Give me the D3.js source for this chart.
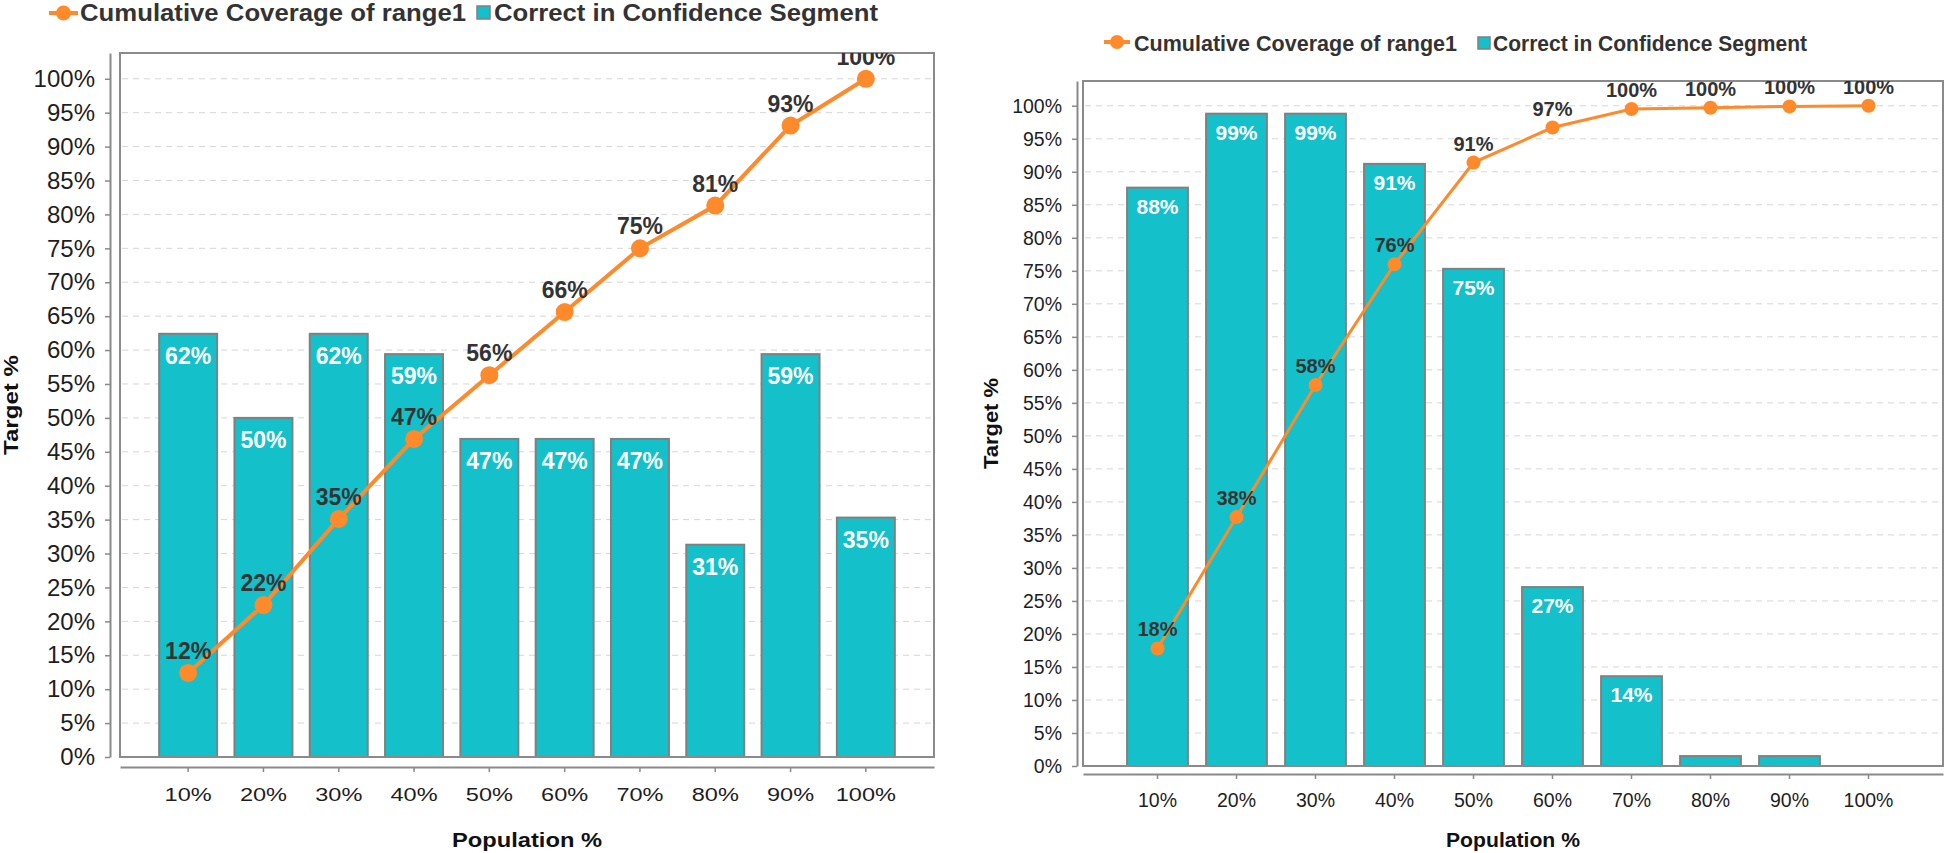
<!DOCTYPE html>
<html>
<head>
<meta charset="utf-8">
<script src="https://cdn.jsdelivr.net/npm/d3@7"></script>
<style>
  html, body { margin: 0; padding: 0; background: #fff; }
  svg { display: block; font-family: "Liberation Sans", Arial, sans-serif; }
</style>
</head>
<body>
<svg id="chart" width="1946" height="853"></svg>
<script>
// ---------- DATA ----------
const categories = ["10%", "20%", "30%", "40%", "50%", "60%", "70%", "80%", "90%", "100%"];
const yTicks = [0, 5, 10, 15, 20, 25, 30, 35, 40, 45, 50, 55, 60, 65, 70, 75, 80, 85, 90, 95, 100];

// Left chart
const leftBars = [62.4, 50.0, 62.4, 59.4, 46.9, 46.9, 46.9, 31.3, 59.4, 35.3];
const leftLine = [12.4, 22.4, 35.1, 46.9, 56.3, 65.6, 75.0, 81.3, 93.1, 100.0];

// Right chart
const rightBars = [87.6, 98.8, 98.8, 91.2, 75.3, 27.1, 13.6, 1.5, 1.5, 0];
const rightLine = [17.8, 37.7, 57.7, 76.0, 91.4, 96.7, 99.5, 99.7, 99.9, 100.0];

const seriesLineName = "Cumulative Coverage of range1";
const seriesBarName = "Correct in Confidence Segment";
const xTitle = "Population %";
const yTitle = "Target %";

// ---------- STYLE ----------
const ORANGE = "#ff8a2b";
const TEAL = "#14c1ca";
const BAR_STROKE = "#808080";
const FRAME = "#8a8a8a";
const GRID = "#d6d6d6";

const svg = d3.select("#chart");

function drawChart(cfg) {
  const g = svg.append("g");
  const x = d3.scaleBand().domain(categories)
    .range([cfg.left, cfg.right]).paddingInner(0.23).paddingOuter(cfg.po);
  const y = d3.scaleLinear().domain([0, cfg.yMax]).range([cfg.bottom, cfg.top]);

  const clipId = "clip" + cfg.id;
  svg.append("defs").append("clipPath").attr("id", clipId)
    .append("rect").attr("x", cfg.left).attr("y", cfg.top)
    .attr("width", cfg.right - cfg.left).attr("height", cfg.bottom - cfg.top);

  // plot background + gridlines
  g.append("rect").attr("x", cfg.left).attr("y", cfg.top)
    .attr("width", cfg.right - cfg.left).attr("height", cfg.bottom - cfg.top)
    .attr("fill", "#fff");
  g.append("g").selectAll("line").data(yTicks.filter(d => d > 0)).join("line")
    .attr("x1", cfg.left + 2).attr("x2", cfg.right - 2)
    .attr("y1", d => y(d)).attr("y2", d => y(d))
    .attr("stroke", GRID).attr("stroke-width", 1).attr("stroke-dasharray", "6,5");

  // bars
  const bars = cfg.bars.map((v, i) => ({ c: categories[i], v }));
  g.append("g").selectAll("rect").data(bars.filter(d => d.v > 0)).join("rect")
    .attr("x", d => x(d.c)).attr("width", x.bandwidth())
    .attr("y", d => y(d.v)).attr("height", d => y(0) - y(d.v))
    .attr("fill", TEAL).attr("stroke", BAR_STROKE).attr("stroke-width", 2);
  g.append("g").selectAll("text").data(bars.filter(d => d.v >= 5)).join("text")
    .attr("x", d => x(d.c) + x.bandwidth() / 2)
    .attr("y", d => y(d.v) + cfg.barLabelDy)
    .attr("text-anchor", "middle").attr("fill", "#fff")
    .attr("font-weight", "bold").attr("font-size", cfg.barLabelSize)
    .text(d => Math.round(d.v) + "%");

  // frame
  g.append("rect").attr("x", cfg.left).attr("y", cfg.top)
    .attr("width", cfg.right - cfg.left).attr("height", cfg.bottom - cfg.top)
    .attr("fill", "none").attr("stroke", FRAME).attr("stroke-width", 2);

  // line series
  const pts = cfg.line.map((v, i) => ({ c: categories[i], v }));
  const cx = d => x(d.c) + x.bandwidth() / 2;
  g.append("path").datum(pts)
    .attr("d", d3.line().x(cx).y(d => y(d.v)))
    .attr("fill", "none").attr("stroke", ORANGE).attr("stroke-width", cfg.lineW);
  g.append("g").selectAll("circle").data(pts).join("circle")
    .attr("cx", cx).attr("cy", d => y(d.v)).attr("r", cfg.r).attr("fill", ORANGE);
  g.append("g").attr("clip-path", `url(#${clipId})`)
    .selectAll("text").data(pts).join("text")
    .attr("x", cx).attr("y", d => y(d.v) - cfg.lineLabelDy)
    .attr("text-anchor", "middle").attr("fill", "#333")
    .attr("font-weight", "bold").attr("font-size", cfg.lineLabelSize)
    .text(d => Math.round(d.v) + "%");

  // y axis
  const ya = g.append("g").attr("transform", `translate(${cfg.yAxisX},0)`)
    .call(d3.axisLeft(y).tickValues(yTicks).tickFormat(d => d + "%")
      .tickSize(5).tickSizeOuter(0).tickPadding(cfg.yPad));
  ya.select(".domain").attr("stroke", FRAME).attr("stroke-width", 2);
  ya.selectAll(".tick line").attr("stroke", FRAME).attr("stroke-width", 1.5);
  ya.selectAll(".tick text").attr("font-size", cfg.yTickSize).attr("fill", "#1e1e1e")
    .attr("font-family", "Liberation Sans, Arial, sans-serif");

  // x axis
  const xa = g.append("g").attr("transform", `translate(0,${cfg.xAxisY})`)
    .call(d3.axisBottom(x).tickSize(5).tickSizeOuter(0).tickPadding(cfg.xPad));
  xa.select(".domain").attr("stroke", FRAME).attr("stroke-width", 2);
  xa.selectAll(".tick line").attr("stroke", FRAME).attr("stroke-width", 1.5);
  xa.selectAll(".tick text").attr("font-size", cfg.xTickSize).attr("fill", "#1e1e1e")
    .attr("font-family", "Liberation Sans, Arial, sans-serif")
    .attr("transform", `scale(${cfg.xTickScale},1)`);

  // axis titles
  g.append("text").attr("x", (cfg.left + cfg.right) / 2).attr("y", cfg.xTitleY)
    .attr("text-anchor", "middle").attr("font-weight", "bold")
    .attr("font-size", cfg.xTitleSize).attr("fill", "#111")
    .attr("textLength", cfg.xTitleLen).attr("lengthAdjust", "spacingAndGlyphs")
    .text(xTitle);
  g.append("text")
    .attr("transform", `translate(${cfg.yTitleX},${(cfg.top + cfg.bottom) / 2}) rotate(-90)`)
    .attr("text-anchor", "middle").attr("font-weight", "bold")
    .attr("font-size", cfg.yTitleSize).attr("fill", "#111")
    .attr("textLength", cfg.yTitleLen).attr("lengthAdjust", "spacingAndGlyphs")
    .text(yTitle);

  // legend
  const L = cfg.legend;
  const lg = g.append("g");
  lg.append("line").attr("x1", L.mx1).attr("x2", L.mx2).attr("y1", L.my).attr("y2", L.my)
    .attr("stroke", ORANGE).attr("stroke-width", 4);
  lg.append("circle").attr("cx", (L.mx1 + L.mx2) / 2).attr("cy", L.my).attr("r", L.mr)
    .attr("fill", ORANGE);
  lg.append("text").attr("x", L.t1x).attr("y", L.ty).attr("font-weight", "bold")
    .attr("font-size", L.size).attr("fill", "#333")
    .attr("textLength", L.t1len).attr("lengthAdjust", "spacingAndGlyphs")
    .text(seriesLineName);
  lg.append("rect").attr("x", L.sx).attr("y", L.sy).attr("width", L.ss).attr("height", L.ss)
    .attr("fill", TEAL).attr("stroke", BAR_STROKE).attr("stroke-width", 1.5);
  lg.append("text").attr("x", L.t2x).attr("y", L.ty).attr("font-weight", "bold")
    .attr("font-size", L.size).attr("fill", "#333")
    .attr("textLength", L.t2len).attr("lengthAdjust", "spacingAndGlyphs")
    .text(seriesBarName);
}

drawChart({
  id: "L", left: 120, right: 934, top: 53, bottom: 757, yMax: 103.8, po: 0.52,
  bars: leftBars, line: leftLine,
  barLabelDy: 30, barLabelSize: 23, lineW: 4, r: 9, lineLabelDy: 14, lineLabelSize: 23,
  yAxisX: 110, yPad: 10, yTickSize: 24,
  xAxisY: 767, xPad: 16, xTickSize: 19, xTickScale: 1.24,
  xTitleY: 847, xTitleSize: 19.5, xTitleLen: 150,
  yTitleX: 18, yTitleSize: 21, yTitleLen: 100,
  legend: { mx1: 49, mx2: 78, my: 13, mr: 7.5, t1x: 80, t1len: 386, ty: 21, size: 23,
            sx: 477, sy: 6, ss: 13, t2x: 494, t2len: 384 }
});

drawChart({
  id: "R", left: 1083, right: 1943, top: 81, bottom: 766, yMax: 103.75, po: 0.558,
  bars: rightBars, line: rightLine,
  barLabelDy: 26, barLabelSize: 21, lineW: 3, r: 7, lineLabelDy: 12, lineLabelSize: 20,
  yAxisX: 1077, yPad: 10, yTickSize: 19.5,
  xAxisY: 774, xPad: 14, xTickSize: 19.5, xTickScale: 1.0,
  xTitleY: 847, xTitleSize: 20, xTitleLen: 134,
  yTitleX: 998, yTitleSize: 21, yTitleLen: 91,
  legend: { mx1: 1104, mx2: 1130, my: 42, mr: 7, t1x: 1134, t1len: 323, ty: 51, size: 21.5,
            sx: 1478, sy: 37, ss: 12, t2x: 1493, t2len: 314 }
});
</script>
</body>
</html>
